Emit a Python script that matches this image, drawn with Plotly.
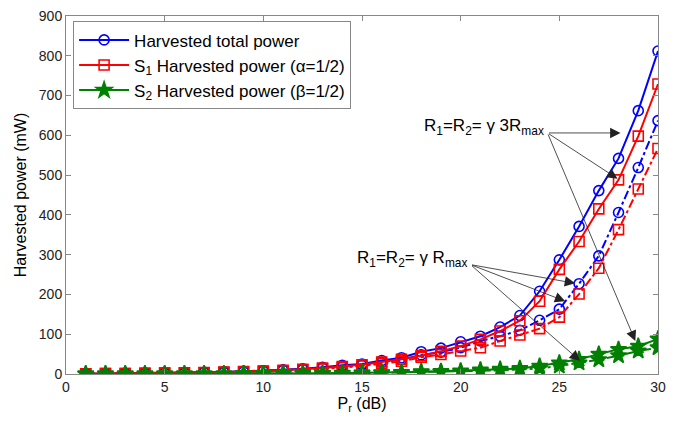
import plotly.graph_objects as go

pr_db = list(range(1, 31))

total_3rmax = [0.8, 1.2, 1.6, 2.1, 2.6, 3.3, 4.2, 5.3, 6.6, 8.3, 10.5, 13, 17, 22, 25,
               34, 41, 56, 65, 81, 95, 118, 147, 208, 287, 371, 461, 542, 662, 812]
s1_3rmax = [0.7, 1.1, 1.4, 1.9, 2.3, 3.0, 3.8, 4.8, 6.0, 7.5, 9.5, 12, 15, 19, 23,
            30, 37, 46, 57, 70, 87, 108, 134, 183, 263, 333, 415, 488, 598, 729]
s2_3rmax = [0.1, 0.1, 0.2, 0.2, 0.3, 0.3, 0.4, 0.5, 0.6, 0.8, 1.0, 1.3, 1.7, 2.2, 2.5,
            3.4, 4.1, 5.6, 6.5, 8, 10, 12, 14, 20, 28, 37, 50, 62, 70, 88]
total_rmax = [0.7, 1.0, 1.4, 1.8, 2.3, 2.9, 3.7, 4.6, 5.8, 7.3, 9.2, 11.5, 14.5, 18, 22,
              29, 36, 48, 55, 66, 83, 95, 110, 135, 163, 227, 297, 406, 519, 637]
s1_rmax = [0.6, 0.9, 1.3, 1.6, 2.1, 2.6, 3.3, 4.1, 5.2, 6.6, 8.3, 10.4, 13, 16, 20,
           26, 32, 42, 49, 58, 66, 83, 98, 114, 143, 201, 266, 363, 465, 567]
s2_rmax = [0.1, 0.1, 0.1, 0.2, 0.2, 0.3, 0.4, 0.5, 0.6, 0.7, 0.9, 1.1, 1.4, 1.8, 2.2,
           2.9, 3.6, 4.8, 5.5, 6, 8, 9, 11, 14, 20, 28, 36, 46, 58, 66]

legend_names = ["Harvested total power",
                "S<sub>1</sub> Harvested power (α=1/2)",
                "S<sub>2</sub> Harvested power (β=1/2)"]
label_3rmax = "R<sub>1</sub>=R<sub>2</sub>= γ 3R<sub>max</sub>"
label_rmax = "R<sub>1</sub>=R<sub>2</sub>= γ R<sub>max</sub>"

BLUE, RED, GREEN = "#0000ff", "#ff0000", "#008000"

fig = go.Figure()

def add(y, color, symbol, dash, name, show, size):
    filled = symbol == "star"
    fig.add_trace(go.Scatter(
        x=pr_db, y=y, mode="lines+markers", name=name, showlegend=show,
        line=dict(color=color, width=2, dash=dash),
        marker=dict(symbol=symbol if filled else symbol + "-open", size=size,
                    color=color, line=dict(color=color, width=1.6)),
    ))

add(total_3rmax, BLUE, "circle", "solid", legend_names[0], True, 10)
add(total_rmax, BLUE, "circle", "dashdot", legend_names[0], False, 10)
add(s1_3rmax, RED, "square", "solid", legend_names[1], True, 10)
add(s1_rmax, RED, "square", "dashdot", legend_names[1], False, 10)
add(s2_3rmax, GREEN, "star", "solid", legend_names[2], True, 12)
add(s2_rmax, GREEN, "star", "dashdot", legend_names[2], False, 12)

arrow_common = dict(xref="x", yref="y", axref="x", ayref="y", text="",
                    showarrow=True, arrowhead=2, arrowsize=2.6, arrowwidth=0.8,
                    arrowcolor="#222")
for tx, ty in [(28.1, 606), (27.95, 491), (28.85, 83)]:
    fig.add_annotation(x=tx, y=ty, ax=24.4, ay=606, **arrow_common)
for tx, ty in [(25.8, 228), (25.3, 183), (26.05, 33)]:
    fig.add_annotation(x=tx, y=ty, ax=20.5, ay=275, **arrow_common)

fig.add_annotation(x=24.3, y=620, xref="x", yref="y", text=label_3rmax,
                   showarrow=False, xanchor="right", yanchor="middle",
                   font=dict(size=17, color="black"))
fig.add_annotation(x=20.4, y=290, xref="x", yref="y", text=label_rmax,
                   showarrow=False, xanchor="right", yanchor="middle",
                   font=dict(size=17, color="black"))

axis_common = dict(showline=True, linecolor="#888", linewidth=1, mirror="ticks",
                   ticks="inside", ticklen=5, tickcolor="#888", showgrid=False,
                   zeroline=False, automargin=False, ticklabeloverflow="allow",
                   tickfont=dict(size=14, color="#222"))

# the page body has an 8px margin, so the figure is drawn 8px in from the corner
fig.update_layout(
    width=673, height=416,
    margin=dict(l=58, r=23, t=8, b=50),
    paper_bgcolor="white", plot_bgcolor="white",
    font=dict(family="Arial, Liberation Sans, sans-serif", color="black"),
    xaxis=dict(range=[0, 30], dtick=5, title=dict(text="P<sub>r</sub> (dB)",
               font=dict(size=16), standoff=3), **axis_common),
    yaxis=dict(range=[0, 900], dtick=100, title=dict(text="Harvested power (mW)",
               font=dict(size=16), standoff=8), **axis_common),
    legend=dict(x=0.012, y=0.985, xanchor="left", yanchor="top",
                bgcolor="white", bordercolor="#888", borderwidth=1,
                itemwidth=50,
                font=dict(size=17, color="black"), tracegroupgap=0),
)

fig.write_html("out.html")
